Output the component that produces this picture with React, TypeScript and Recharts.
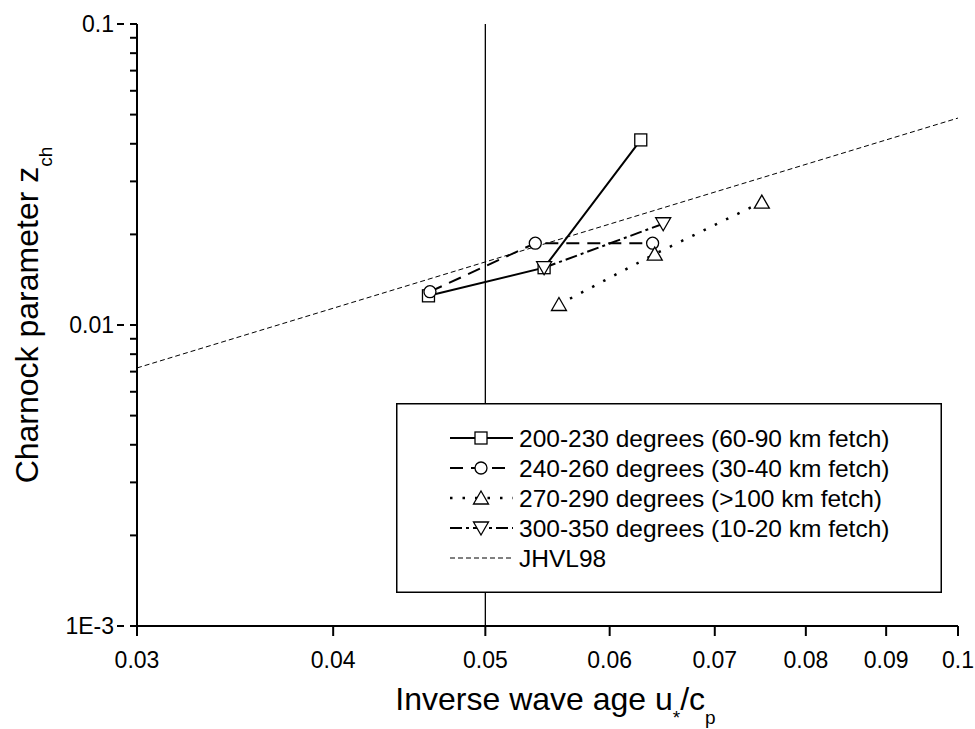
import { ComposedChart, Line, XAxis, YAxis, ReferenceLine, Legend, Label } from 'recharts'

const FONT = "'Liberation Sans', Arial, Helvetica, sans-serif"

// axis ticks
const xTicks = [0.03, 0.04, 0.05, 0.06, 0.07, 0.08, 0.09, 0.1]
const xTickLabels = ['0.03', '0.04', '0.05', '0.06', '0.07', '0.08', '0.09', '0.1']
const yMajorTicks = [0.001, 0.01, 0.1]
const yMajorLabels = ['1E-3', '0.01', '0.1']
const yMinorTicks = [
  0.002, 0.003, 0.004, 0.005, 0.006, 0.007, 0.008, 0.009,
  0.02, 0.03, 0.04, 0.05, 0.06, 0.07, 0.08, 0.09,
]

// series (x = u*/cp, y = zch)
const dir200 = [
  { x: 0.046, y: 0.0125 },
  { x: 0.0545, y: 0.0155 },
  { x: 0.0628, y: 0.0412 },
]
const dir240 = [
  { x: 0.0461, y: 0.0129 },
  { x: 0.0538, y: 0.0187 },
  { x: 0.0639, y: 0.0187 },
]
const dir270 = [
  { x: 0.0557, y: 0.0117 },
  { x: 0.0641, y: 0.0172 },
  { x: 0.075, y: 0.0256 },
]
const dir300 = [
  { x: 0.0545, y: 0.0155 },
  { x: 0.0649, y: 0.0217 },
]
const jhvl98 = [
  { x: 0.03, y: 0.0072 },
  { x: 0.1, y: 0.0487 },
]
const refX = 0.05

const seriesNames = [
  '200-230 degrees (60-90 km fetch)',
  '240-260 degrees (30-40 km fetch)',
  '270-290 degrees (>100 km fetch)',
  '300-350 degrees (10-20 km fetch)',
  'JHVL98',
]

type MarkerKind = 'square' | 'circle' | 'up' | 'down' | 'none'

const styles: { dash?: string; width: number; marker: MarkerKind }[] = [
  { dash: undefined, width: 2, marker: 'square' },
  { dash: '13 8', width: 2, marker: 'circle' },
  { dash: '2.5 10', width: 2.5, marker: 'up' },
  { dash: '12 4 3 4', width: 2, marker: 'down' },
  { dash: '5 3', width: 1, marker: 'none' },
]

const Marker = ({ kind, cx, cy }: { kind: MarkerKind; cx: number; cy: number }) => {
  const p = { fill: '#fff', stroke: '#000', strokeWidth: 1.3 }
  if (kind === 'square') return <rect x={cx - 6} y={cy - 6} width={12} height={12} {...p} />
  if (kind === 'circle') return <circle cx={cx} cy={cy} r={6} {...p} />
  if (kind === 'up')
    return <polygon points={`${cx},${cy - 7} ${cx + 7.5},${cy + 6} ${cx - 7.5},${cy + 6}`} {...p} />
  if (kind === 'down')
    return <polygon points={`${cx},${cy + 7} ${cx + 7.5},${cy - 6} ${cx - 7.5},${cy - 6}`} {...p} />
  return null
}

const makeDot = (kind: MarkerKind, name: string) => (props: any) => (
  <g key={`${name}-${props.index}`}>
    <Marker kind={kind} cx={props.cx} cy={props.cy} />
  </g>
)

// Y: axis draws 7px tick marks, majors get extended to 13px here
const Y_TICK = 7
const Y_GAP = 16
const YTick = (props: any) => {
  const { x, y, payload } = props
  const i = yMajorTicks.indexOf(payload.value)
  if (i < 0) return <g />
  return (
    <g>
      <rect x={x + Y_GAP - 13} y={y - 1} width={7} height={2} fill="#000" stroke="none" />
      <text x={x} y={y} dy="0.36em" textAnchor="end" fontSize={23} fontFamily={FONT} fill="#000" stroke="none">
        {yMajorLabels[i]}
      </text>
    </g>
  )
}

const XTick = (props: any) => {
  const { x, y, payload } = props
  const i = xTicks.indexOf(payload.value)
  return (
    <text x={x} y={y} textAnchor="middle" fontSize={23} fontFamily={FONT} fill="#000" stroke="none">
      {xTickLabels[i]}
    </text>
  )
}

const XTitle = ({ viewBox }: any) => (
  <text
    x={viewBox.x + viewBox.width / 2 + 8}
    y={viewBox.y + 84}
    textAnchor="middle"
    fontSize={32}
    fontFamily={FONT}
    fill="#000"
  >
    Inverse wave age u
    <tspan dy={14} fontSize={19}>*</tspan>
    <tspan dy={-14}>/c</tspan>
    <tspan dy={14} fontSize={19}>p</tspan>
  </text>
)

const YTitle = ({ viewBox }: any) => {
  const cx = 38
  const cy = viewBox.y + viewBox.height / 2 - 10
  return (
    <text
      x={cx}
      y={cy}
      transform={`rotate(-90 ${cx} ${cy})`}
      textAnchor="middle"
      fontSize={32}
      fontFamily={FONT}
      fill="#000"
    >
      Charnock parameter z
      <tspan dy={14} fontSize={19}>ch</tspan>
    </text>
  )
}

const LegendBox = () => (
  <svg width={546} height={190} style={{ display: 'block', background: '#fff' }}>
    <rect x={0.75} y={0.75} width={544.5} height={188.5} fill="#fff" stroke="#000" strokeWidth={1.5} />
    {seriesNames.map((name, i) => {
      const st = styles[i]
      const y = 35 + i * 30
      return (
        <g key={name}>
          <line x1={54} x2={117} y1={y} y2={y} stroke="#000" strokeWidth={st.width} strokeDasharray={st.dash} />
          <Marker kind={st.marker} cx={85} cy={y} />
          <text x={123} y={y} dy="0.36em" fontSize={24.5} fontFamily={FONT} fill="#000">
            {name}
          </text>
        </g>
      )
    })}
  </svg>
)

const allSeries = [dir200, dir240, dir270, dir300]

export default function App() {
  return (
    <div style={{ position: 'absolute', left: 0, top: 0, width: 975, height: 729, background: '#fff' }}>
      <ComposedChart width={975} height={729} margin={{ top: 24, right: 17, left: 0, bottom: 0 }}>
        <XAxis
          dataKey="x"
          type="number"
          scale="log"
          domain={[0.03, 0.1]}
          allowDataOverflow
          ticks={xTicks}
          interval={0}
          height={103}
          tickSize={10}
          tickMargin={32}
          tickLine={{ stroke: '#000', strokeWidth: 2 }}
          tick={(p: any) => <XTick {...p} />}
          axisLine={{ stroke: '#000', strokeWidth: 2 }}
        >
          <Label content={<XTitle />} />
        </XAxis>
        <YAxis
          dataKey="y"
          type="number"
          scale="log"
          domain={[0.001, 0.1]}
          allowDataOverflow
          ticks={[...yMajorTicks, ...yMinorTicks]}
          interval={0}
          width={137}
          tickSize={Y_TICK}
          tickMargin={Y_GAP}
          tickLine={{ stroke: '#000', strokeWidth: 2 }}
          tick={(p: any) => <YTick {...p} />}
          axisLine={{ stroke: '#000', strokeWidth: 2 }}
        >
          <Label content={<YTitle />} />
        </YAxis>
        <ReferenceLine x={refX} stroke="#000" strokeWidth={1.3} />
        <Line
          data={jhvl98}
          dataKey="y"
          name={seriesNames[4]}
          type="linear"
          stroke="#000"
          strokeWidth={styles[4].width}
          strokeDasharray={styles[4].dash}
          dot={false}
          activeDot={false}
          isAnimationActive={false}
        />
        {allSeries.map((d, i) => (
          <Line
            key={seriesNames[i]}
            data={d}
            dataKey="y"
            name={seriesNames[i]}
            type="linear"
            stroke="#000"
            strokeWidth={styles[i].width}
            strokeDasharray={styles[i].dash}
            dot={makeDot(styles[i].marker, seriesNames[i])}
            activeDot={false}
            isAnimationActive={false}
          />
        ))}
        <Legend
          layout="horizontal"
          verticalAlign="middle"
          align="center"
          content={<LegendBox />}
          wrapperStyle={{ left: 396, top: 403, width: 546, height: 190 }}
        />
      </ComposedChart>
    </div>
  )
}
